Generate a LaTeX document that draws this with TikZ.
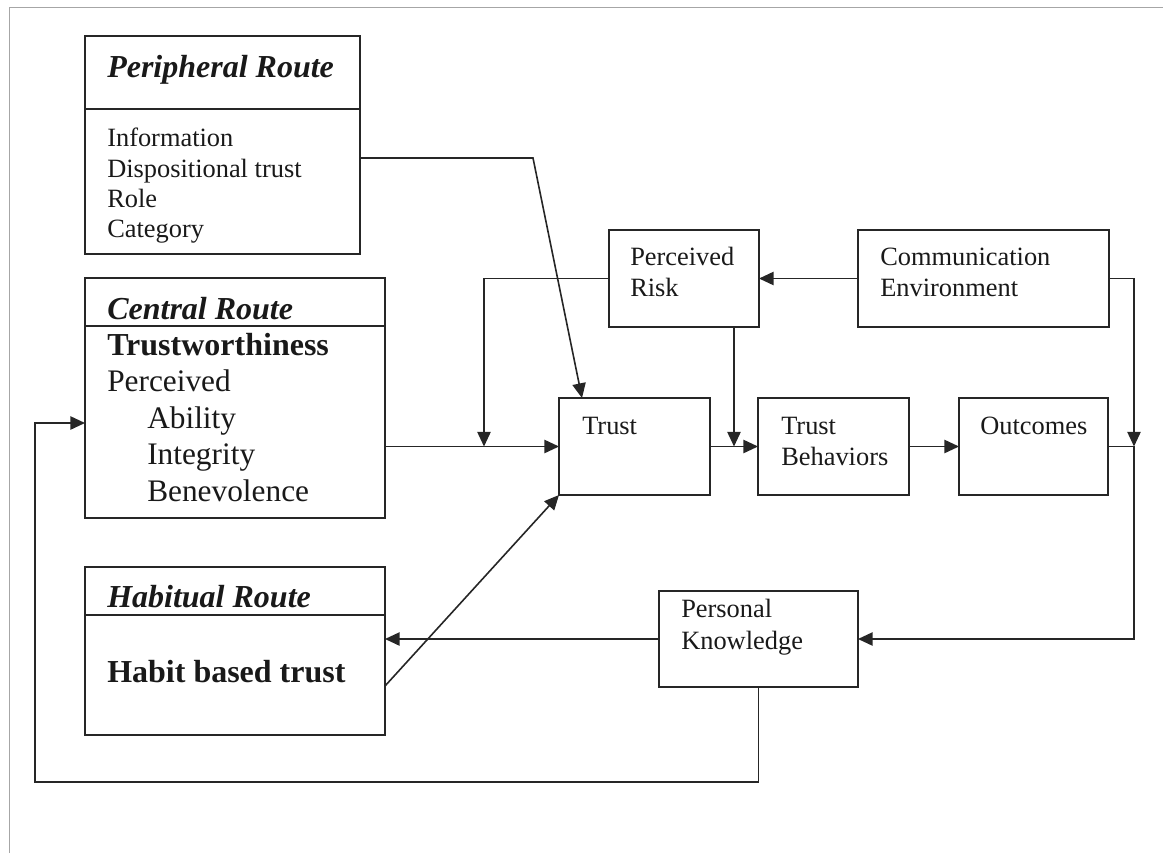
\documentclass[tikz,border=0pt]{standalone}
\usepackage{fontspec}
\setmainfont{Liberation Serif}
\usetikzlibrary{arrows.meta}
\begin{document}
\begin{tikzpicture}[x=0.75pt,y=-0.75pt,
  box/.style 2 args={draw=black!85, line width=1.2pt, inner sep=0pt, outer sep=0pt,
    minimum width=#1*0.75pt, minimum height=#2*0.75pt},
  link/.style={draw=black!85, line width=1.2pt},
  arrow/.style={link, -{Triangle[length=11pt,width=10pt]}},
  lbl/.style={anchor=base west, inner sep=0pt, text=black!90},
  small/.style={lbl, font=\fontsize{19.8}{23}\selectfont},
  mid/.style={lbl, font=\fontsize{23.5}{27}\selectfont},
  head/.style={lbl, font=\fontsize{24}{28}\selectfont\bfseries\itshape},
  strong/.style={lbl, font=\fontsize{24}{28}\selectfont\bfseries}]
\useasboundingbox (0,0) rectangle (1163,853);

% page frame
\draw[gray!70, line width=0.7pt] (9,853) -- (9,7) -- (1163,7);

% route boxes
\node[box={275}{218}] (periph)  at (222.5,145) {};
\node[box={300}{240}] (central) at (235,398) {};
\node[box={300}{168}] (habit)   at (235,651) {};
\draw[link] (periph.west |- 0,109) -- (periph.east |- 0,109);
\draw[link] (central.west |- 0,326) -- (central.east |- 0,326);
\draw[link] (habit.west |- 0,615) -- (habit.east |- 0,615);

% process boxes
\node[box={151}{97}] (trust) at (634.5,446.5) {};
\node[box={151}{97}] (tb)    at (833.5,446.5) {};
\node[box={149}{97}] (out)   at (1033.5,446.5) {};
\node[box={150}{97}] (risk)  at (684,278.5) {};
\node[box={251}{97}] (ce)    at (983.5,278.5) {};
\node[box={199}{96}] (pk)    at (758.5,639) {};

% texts of the route boxes
\node[head] (tp) at (107,77) {Peripheral Route};
\node[small] (p1) at (107,146) {Information};
\node[small] (p2) at (107,177) {Dispositional trust};
\node[small] (p3) at (107,207) {Role};
\node[small] (p4) at (107,237) {Category};

\node[head] (tc) at (107,319) {Central Route};
\node[strong] (c1) at (107,355) {Trustworthiness};
\node[mid] (c2) at (107,391.5) {Perceived};
\node[mid] (c3) at (147,428) {Ability};
\node[mid] (c4) at (147,464.5) {Integrity};
\node[mid] (c5) at (147,501) {Benevolence};

\node[head] (th) at (107,607) {Habitual Route};
\node[strong] (h1) at (107,682) {Habit based trust};

% texts of the process boxes
\node[small] (t1) at (582,434) {Trust};
\node[small] (b1) at (781,434) {Trust};
\node[small] (b2) at (781,465) {Behaviors};
\node[small] (o1) at (980,434) {Outcomes};
\node[small] (r1) at (630,265) {Perceived};
\node[small] (r2) at (630,296) {Risk};
\node[small] (e1) at (880,265) {Communication};
\node[small] (e2) at (880,296) {Environment};
\node[small] (k1) at (681,617) {Personal};
\node[small] (k2) at (681,649) {Knowledge};

% junction points
\coordinate (pbend) at (533,158);
\coordinate (rj) at (484,446.5);
\coordinate (tj) at (734,446.5);
\coordinate (oj) at (1134,446.5);
\coordinate (hd) at (385,686);
\coordinate (lb) at (35,782);
\coordinate (ca) at (85,423);

% connectors
\draw[arrow] (periph.east |- pbend) -- (pbend) -- ([xshift=17.25pt]trust.north west);
\draw[arrow] (central.east |- trust.west) -- (trust.west);
\draw[arrow] (risk.west) -| (rj);
\draw[arrow] (risk.south -| tj) -- (tj);
\draw[arrow] (trust.east) -- (tb.west);
\draw[arrow] (tb.east) -- (out.west);
\draw[arrow] (ce.west) -- (risk.east);
\draw[arrow] (ce.east) -| (oj);
\draw[arrow] (out.east) -- (oj) -- (oj |- pk.east) -- (pk.east);
\draw[arrow] (pk.west) -- (habit.east |- pk.west);
\draw[arrow] (hd) -- (trust.south west);
\draw[arrow] (pk.south) -- (pk.south |- lb) -- (lb) -- (lb |- ca) -- (ca);
\end{tikzpicture}
\end{document}
